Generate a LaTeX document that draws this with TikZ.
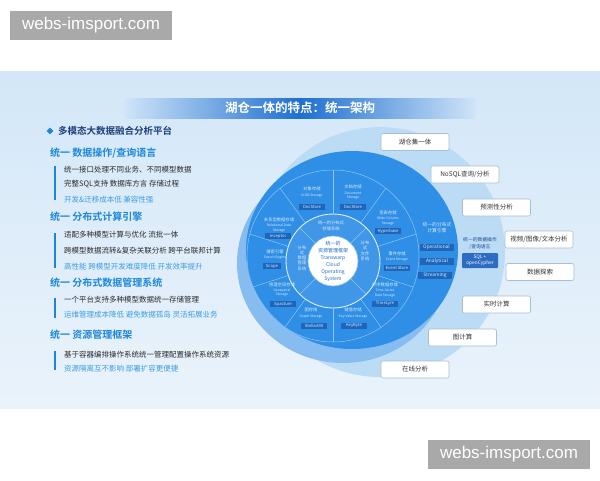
\documentclass[tikz,border=0pt]{standalone}
\usepackage{fontspec}
\setmainfont{Noto Sans CJK SC}[BoldFont={Noto Sans CJK SC Bold}]
\newfontfamily\wmfont{Liberation Sans}
\usetikzlibrary{positioning,calc,shapes.geometric}

\definecolor{diskblue}{HTML}{2F8EE5}
\definecolor{sideblue}{HTML}{86BCEF}
\definecolor{paleblue}{HTML}{BCDCF6}
\definecolor{ringline}{HTML}{8FC6F4}
\definecolor{tagblue}{HTML}{1F66BA}
\definecolor{taglight}{HTML}{D6EBFC}
\definecolor{boxline}{HTML}{A7BED4}
\definecolor{boxtext}{HTML}{333333}
\definecolor{navy}{HTML}{1C3D78}
\definecolor{headblue}{HTML}{1C86D9}
\definecolor{softblue}{HTML}{3C9CE4}
\definecolor{bodytext}{HTML}{2A2A2A}
\definecolor{coreblue}{HTML}{1F6CC4}
\definecolor{panelTop}{HTML}{D3E7F8}
\definecolor{panelBot}{HTML}{EAF3FB}
\definecolor{bannerDark}{HTML}{1E6FD0}
\definecolor{bannerLight}{HTML}{CFE4F8}
\definecolor{sqlblue}{HTML}{2D6CC0}
\definecolor{sqltext}{HTML}{1E4E94}
\definecolor{wmgray}{HTML}{A9A9A9}

\begin{document}
\begin{tikzpicture}[
		x=1pt, y=-1pt,
		box/.style={
			draw=boxline, fill=white, rounded corners=2pt, line width=0.6pt,
			minimum width=68pt, minimum height=17pt, inner sep=0pt,
			font=\fontsize{6.5}{7}\selectfont, text=boxtext,
		},
		tag/.style={
			fill=tagblue, minimum width=26pt, minimum height=6pt, inner sep=0pt,
			font=\fontsize{4.2}{4.5}\selectfont, text=taglight,
		},
		opbox/.style={
			tag, minimum width=34pt, minimum height=7pt,
			font=\fontsize{4.8}{5}\selectfont,
		},
		seglabel/.style={
			align=center, inner sep=0pt, text=taglight,
			font=\fontsize{4.3}{5.3}\selectfont,
		},
		segen/.style={
			align=center, inner sep=0pt, text=taglight,
			font=\fontsize{3.4}{4.6}\selectfont,
		},
		head/.style={
			anchor=west, inner sep=0pt, text=headblue,
			font=\fontsize{10}{11}\selectfont\bfseries,
		},
		line/.style={
			anchor=west, inner sep=0pt, text=bodytext,
			font=\fontsize{7.5}{8}\selectfont,
		},
		gain/.style={
			line, text=softblue,
		},
		bar/.style={
			headblue, line width=1.4pt,
		},
		watermark/.style={
			fill=wmgray, text=white, minimum width=162pt, minimum height=29pt,
			inner sep=0pt, font=\wmfont\fontsize{17}{18}\selectfont,
		},
	]
	\useasboundingbox (0,0) rectangle (600,480);
	\fill[white] (0,0) rectangle (600,480);

	% panel
	\shade[top color=panelTop, bottom color=panelBot] (0,71) rectangle (600,408);
	\shade[left color=bannerLight, right color=bannerDark] (125,98) rectangle (300,118);
	\shade[left color=bannerDark, right color=bannerLight] (300,98) rectangle (475,118);
	\node[text=white, font=\fontsize{12.5}{13}\selectfont\bfseries] (title) at (300,108) {湖仓一体的特点：统一架构};

	% left column
	\node[diamond, fill=headblue, inner sep=0pt, minimum size=7pt] (dia) at (50,131) {};
	\node[anchor=west, inner sep=0pt, text=navy, font=\fontsize{9.5}{10}\selectfont\bfseries] (plat) at (58,131) {多模态大数据融合分析平台};

	\node[head] (h1) at (50,153) {统一 数据操作/查询语言};
	\draw[bar] (55,166) -- (55,200);
	\node[line] (a1) at (64,169.5) {统一接口处理不同业务、不同模型数据};
	\node[line] (a2) at (64,184.5) {完整SQL支持 数据库方言 存储过程};
	\node[gain] (a3) at (64,200) {开发\&迁移成本低 兼容性强};

	\node[head] (h2) at (50,217) {统一 分布式计算引擎};
	\draw[bar] (55,233) -- (55,268);
	\node[line] (b1) at (64,235) {适配多种模型计算与优化 流批一体};
	\node[line] (b2) at (64,251) {跨模型数据流转\&复杂关联分析 跨平台联邦计算};
	\node[gain] (b3) at (64,267) {高性能 跨模型开发难度降低 开发效率提升};

	\node[head] (h3) at (50,283) {统一 分布式数据管理系统};
	\draw[bar] (55,298) -- (55,318);
	\node[line] (c1) at (64,300) {一个平台支持多种模型数据统一存储管理};
	\node[gain] (c2) at (64,315) {运维管理成本降低 避免数据孤岛 灵活拓展业务};

	\node[head] (h4) at (50,335) {统一 资源管理框架};
	\draw[bar] (55,351) -- (55,370);
	\node[line] (d1) at (64,355) {基于容器编排操作系统统一管理配置操作系统资源};
	\node[gain] (d2) at (64,369) {资源隔离互不影响 部署扩容更便捷};

	% rings
	\fill[paleblue] (380,252) circle[radius=125];
	\fill[sideblue] (343,263) ellipse[x radius=106, y radius=100];
	\fill[diskblue] (352,250) ellipse[x radius=106, y radius=99];
	\coordinate (core) at (333,261);
	\begin{scope}
		\clip (352,250) ellipse[x radius=106, y radius=99];
		\draw[ringline, line width=0.5pt] (333,256) circle[radius=86];
		\clip (333,256) circle[radius=86];
		\foreach \a in {18,54,...,342}
			\draw[ringline, line width=0.5pt] ($(core)+({-\a}:47)$) -- ($(core)+({-\a}:140)$);
	\end{scope}
	\fill[diskblue!92!white] (core) circle[radius=47];
	\foreach \a in {45,135,225,315}
		\draw[ringline, line width=0.5pt] ($(core)+({-\a}:25)$) -- ($(core)+({-\a}:47)$);
	\draw[white!85!diskblue, line width=0.9pt] (core) circle[radius=47];
	\fill[white] (core) circle[radius=25];
	\draw[ringline, line width=0.6pt] (core) circle[radius=25];

	% core text
	\node[align=center, inner sep=0pt, text=coreblue, font=\fontsize{5}{7}\selectfont] (os) at (core) {统一的\\资源管理框架\\Transwarp\\Cloud\\Operating\\System};

	% middle ring
	\node[seglabel] (sys1) at (331,226) {统一的分布式\\存储系统};
	\node[seglabel] (sys2) at (365,251) {分布\\式\\文件\\系统};
	\node[seglabel] (sys3) at (302,258) {分布\\式\\数据\\管理\\系统};

	% storage segments
	\node[seglabel] (s1) at (312,189) {对象存储};
	\node[segen] (s1e) at (312,196) {N-DB Storage};
	\node[tag] (s1t) at (312,207) {DocStore};

	\node[seglabel] (s2) at (353,187) {文档存储};
	\node[segen] (s2e) at (353,195.5) {Document\\Storage};
	\node[tag] (s2t) at (353,207) {DocStore};

	\node[seglabel] (s3) at (388,213) {宽表存储};
	\node[segen] (s3e) at (388,221) {Wide-Column\\Storage};
	\node[tag] (s3t) at (388,231) {Hyperbase};

	\node[seglabel] (s4) at (397,254) {事件存储};
	\node[segen] (s4e) at (397,260) {Event Storage};
	\node[tag] (s4t) at (397,268) {Event Store};

	\node[seglabel] (s5) at (385,285) {时序数据存储};
	\node[segen] (s5e) at (385,293) {Time-Series\\Data Storage};
	\node[tag] (s5t) at (385,303.5) {TimeLyre};

	\node[seglabel] (s6) at (353,310) {键值存储};
	\node[segen] (s6e) at (353,316.5) {Key-Value Storage};
	\node[tag] (s6t) at (354,325.5) {KeyByte};

	\node[seglabel] (s7) at (311,310) {图存储};
	\node[segen] (s7e) at (311,316.5) {Graph Storage};
	\node[tag] (s7t) at (314,325.5) {StellarDB};

	\node[seglabel] (s8) at (282,285) {地理空间存储};
	\node[segen] (s8e) at (282,292.5) {Geospatial\\Storage};
	\node[tag] (s8t) at (283,304) {Spacture};

	\node[seglabel] (s9) at (275,251.5) {搜索引擎};
	\node[segen] (s9e) at (275,257.5) {Search Engine};
	\node[tag, minimum width=18pt] (s9t) at (272,266) {Scope};

	\node[seglabel] (s10) at (279,220) {关系型数据存储};
	\node[segen] (s10e) at (279,228) {Relational Data\\Storage};
	\node[tag] (s10t) at (278,236) {Inceptor};

	% compute engine
	\node[seglabel, font=\fontsize{4.8}{5.8}\selectfont] (eng) at (437,228) {统一的分布式\\计算引擎};
	\node[opbox] (op1) at (436.5,247) {Operational};
	\node[opbox] (op2) at (437,261) {Analytical};
	\node[opbox] (op3) at (435,275) {Streaming};

	% query language
	\node[align=center, inner sep=0pt, text=sqltext, font=\fontsize{4.8}{6.5}\selectfont] (qry) at (480,243.5) {统一的数据操作\\/查询语言};
	\node[fill=sqlblue, rounded corners=1pt, minimum width=36pt, minimum height=15pt, inner sep=0pt, align=center, text=white, font=\fontsize{4.8}{6.5}\selectfont] (sql) at (480,260.5) {SQL +\\openCypher};

	% scenarios
	\node[box] (f1) at (415,142) {湖仓集一体};
	\node[box] (f2) at (465,174.5) {NoSQL查询/分析};
	\node[box] (f3) at (496.5,207.5) {预测性分析};
	\node[box] (f4) at (539,239.5) {视频/图像/文本分析};
	\node[box] (f5) at (540,272) {数据探索};
	\node[box] (f6) at (496.5,304.5) {实时计算};
	\node[box] (f7) at (462.5,337.5) {图计算};
	\node[box] (f8) at (415,369.5) {在线分析};

	% watermarks
	\node[watermark] (wm1) at (91,25.5) {webs-imsport.com};
	\node[watermark] (wm2) at (509,454.5) {webs-imsport.com};
\end{tikzpicture}
\end{document}
